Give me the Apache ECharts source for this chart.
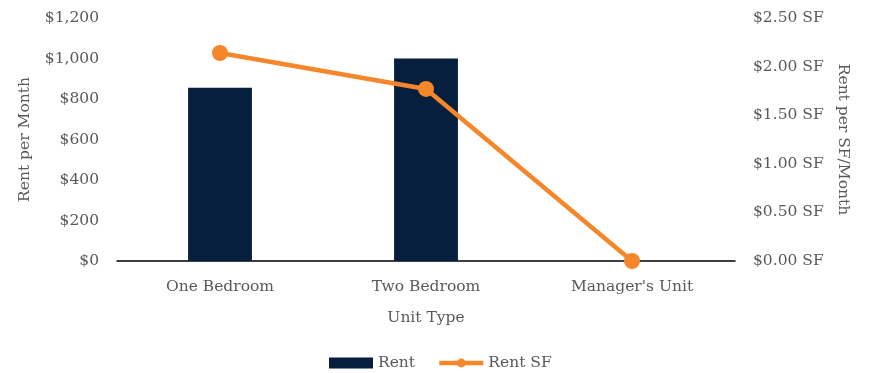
<!DOCTYPE html>
<html><head><meta charset="utf-8">
<script src="https://cdn.jsdelivr.net/npm/echarts@6/dist/echarts.min.js"></script>
<style>html,body{margin:0;padding:0;background:#fff}#c{width:869px;height:373px}</style>
</head><body><div id="c"></div>
<script>
const categories = ["One Bedroom", "Two Bedroom", "Manager's Unit"];
const rentValues = [855, 1000, 0];
const rentSfValues = [2.14, 1.77, 0];
const leftTicks = {min: 0, max: 1200, interval: 200};
const rightTicks = {min: 0, max: 2.5, interval: 0.5};

const FONT = "DejaVu Serif";
const FS = 15.5;
const TXT = "#595959";
const chart = echarts.init(document.getElementById('c'));
chart.setOption({
  animation: false,
  textStyle: {fontFamily: FONT, color: TXT},
  grid: {left: 117, right: 134, top: 18, bottom: 112},
  legend: {
    bottom: -3, left: 324, itemGap: 22, itemWidth: 44, itemHeight: 11,
    textStyle: {fontFamily: FONT, fontSize: FS, color: TXT},
    data: [{name: 'Rent', icon: 'rect'}, {name: 'Rent SF', lineStyle: {width: 4.5}}]
  },
  xAxis: {
    type: 'category', data: categories,
    axisLine: {lineStyle: {color: '#000', width: 1.5}},
    axisTick: {show: false},
    axisLabel: {fontFamily: FONT, fontSize: FS, color: TXT, margin: 18},
    name: 'Unit Type', nameLocation: 'middle', nameGap: 49,
    nameTextStyle: {fontFamily: FONT, fontSize: FS, color: TXT}
  },
  yAxis: [{
    type: 'value', min: leftTicks.min, max: leftTicks.max, interval: leftTicks.interval,
    splitLine: {show: false}, axisLine: {show: false}, axisTick: {show: false},
    axisLabel: {fontFamily: FONT, fontSize: FS, color: TXT, margin: 18,
      formatter: v => '$' + v.toLocaleString('en-US')},
    name: 'Rent per Month', nameLocation: 'middle', nameGap: 84, nameRotate: 90,
    nameTextStyle: {fontFamily: FONT, fontSize: FS, color: TXT}
  }, {
    type: 'value', min: rightTicks.min, max: rightTicks.max, interval: rightTicks.interval,
    splitLine: {show: false}, axisLine: {show: false}, axisTick: {show: false},
    axisLabel: {fontFamily: FONT, fontSize: FS, color: TXT, margin: 18,
      formatter: v => '$' + v.toFixed(2) + ' SF'},
    name: 'Rent per SF/Month', nameLocation: 'middle', nameGap: 100, nameRotate: -90,
    nameTextStyle: {fontFamily: FONT, fontSize: FS, color: TXT}
  }],
  series: [{
    name: 'Rent', type: 'bar', data: rentValues, yAxisIndex: 0,
    barWidth: '31%', itemStyle: {color: '#061F3F'}
  }, {
    name: 'Rent SF', type: 'line', data: rentSfValues, yAxisIndex: 1,
    symbol: 'circle', symbolSize: 16,
    lineStyle: {color: '#F5862A', width: 4.5},
    itemStyle: {color: '#F5862A'}
  }]
});
</script></body></html>
